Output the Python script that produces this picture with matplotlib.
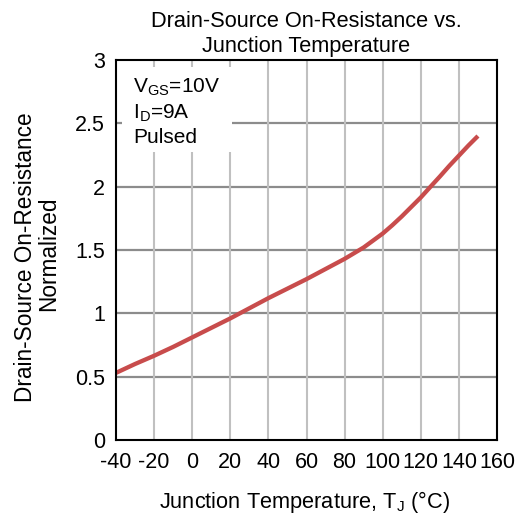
import matplotlib.pyplot as plt
from matplotlib.patches import Rectangle

plt.rcParams['font.family'] = ['Liberation Sans', 'DejaVu Sans']
plt.rcParams['mathtext.fontset'] = 'custom'
plt.rcParams['mathtext.rm'] = 'Liberation Sans'
plt.rcParams['axes.unicode_minus'] = False

# valores
temp_c = [-40, -30, -20, -10, 0, 10, 20, 30, 40, 50, 60, 70, 80, 90, 100,
          105, 110, 115, 120, 125, 130, 135, 140, 145, 150]
rds_norm = [0.53, 0.60, 0.665, 0.735, 0.81, 0.885, 0.96, 1.04, 1.12, 1.195, 1.27,
            1.35, 1.43, 1.52, 1.63, 1.695, 1.765, 1.84, 1.915, 1.998, 2.08,
            2.165, 2.245, 2.325, 2.40]

x_ticks = [-40, -20, 0, 20, 40, 60, 80, 100, 120, 140, 160]
y_ticks = [0, 0.5, 1, 1.5, 2, 2.5, 3]
y_tick_labels = ["0", "0.5", "1", "1.5", "2", "2.5", "3"]

W, H = 521, 518
fig = plt.figure(figsize=(W / 100, H / 100), dpi=100)
ax = fig.add_axes([116 / W, 1 - 440 / H, 381 / W, 380 / H])

ax.set_xlim(-40, 160)
ax.set_ylim(0, 3)
ax.set_xticks(x_ticks)
ax.set_yticks(y_ticks)
ax.set_yticklabels(y_tick_labels)
ax.tick_params(length=0, labelsize=15.5)
ax.tick_params(axis="x", pad=9)
ax.tick_params(axis="y", pad=8)

# grade: horizontais mais escuras, verticais mais claras
for yv in y_ticks[1:-1]:
    ax.axhline(yv, color="#8c8c8c", lw=1.6, zorder=1)
for xv in x_ticks[1:-1]:
    ax.axvline(xv, color="#c0c0c0", lw=1.5, zorder=1)

for s in ax.spines.values():
    s.set_linewidth(1.5)
    s.set_color("black")
    s.set_zorder(5)

# caixa branca das condicoes
ax.add_patch(Rectangle((0.016, 0.758), 0.288, 0.224, transform=ax.transAxes,
                       facecolor="white", edgecolor="none", zorder=2))
ax.text(0.045, 0.916, r"V$_{\rm GS}$=10V", transform=ax.transAxes, fontsize=15,
        va="baseline", ha="left", zorder=3)
ax.text(0.045, 0.847, r"I$_{\rm D}$=9A", transform=ax.transAxes, fontsize=15,
        va="baseline", ha="left", zorder=3)
ax.text(0.045, 0.782, "Pulsed", transform=ax.transAxes, fontsize=15,
        va="baseline", ha="left", zorder=3)

ax.plot(temp_c, rds_norm, color="#c84c4c", lw=3.1, zorder=4, solid_capstyle="butt")

# titulo e rotulos
fig.text(306 / W, 1 - 27 / H, "Drain-Source On-Resistance vs.", fontsize=15.7,
         ha="center", va="baseline")
fig.text(306 / W, 1 - 52 / H, "Junction Temperature", fontsize=15.7,
         ha="center", va="baseline")
fig.text(304 / W, 1 - 508 / H, r"Junction Temperature, T$_{\rm J}$ (°C)", fontsize=15.7,
         ha="center", va="baseline")
fig.text(25.5 / W, 1 - 257 / H, "Drain-Source On-Resistance", fontsize=16.3,
         rotation=90, ha="center", va="center")
fig.text(48.5 / W, 1 - 254 / H, "Normalized", fontsize=16.3,
         rotation=90, ha="center", va="center")

fig.savefig("out.png", dpi=100)
